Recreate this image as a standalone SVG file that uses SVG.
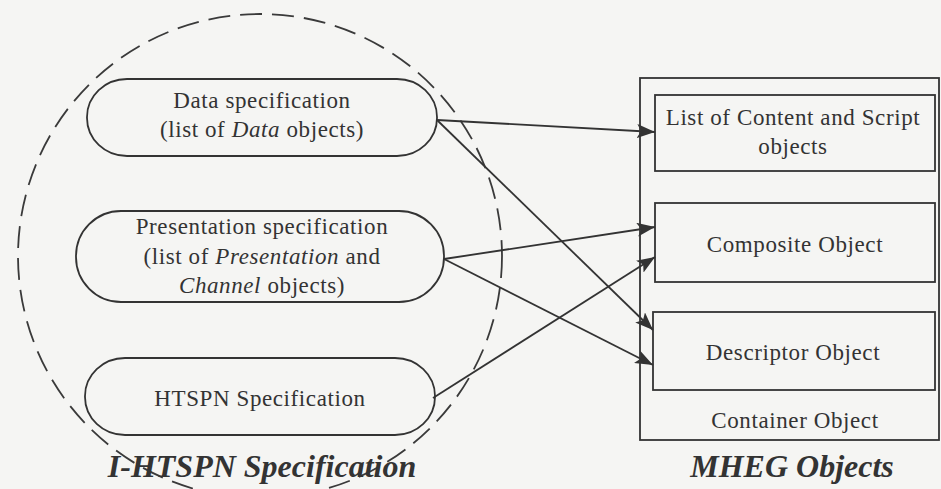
<svg xmlns="http://www.w3.org/2000/svg" width="941" height="489" viewBox="0 0 941 489">
<defs>
<style>
.bg{fill:#f5f5f3}
.shape{fill:none;stroke:#333;stroke-width:1.8}
.dash{fill:none;stroke:#3a3a3a;stroke-width:1.8;stroke-dasharray:22 10}
.t{font-family:"Liberation Serif","Times New Roman",serif;font-size:23px;fill:#333;text-anchor:middle;letter-spacing:0.6px}
.i{font-style:italic}
.title{font-family:"Liberation Serif","Times New Roman",serif;font-size:32px;font-weight:bold;font-style:italic;fill:#333;text-anchor:middle}
.conn{fill:none;stroke:#333;stroke-width:1.8;marker-end:url(#arr)}
</style>
<marker id="arr" markerUnits="userSpaceOnUse" markerWidth="20" markerHeight="14" refX="18" refY="7" orient="auto">
<path d="M0,0 L18,7 L0,14 L4,7 z" fill="#333"/>
</marker>
</defs>
<rect class="bg" x="0" y="0" width="941" height="489"/>

<g id="ihtspn-boundary">
<circle class="dash" cx="260" cy="256" r="242"/>
<text class="title" x="262" y="477">I-HTSPN Specification</text>
</g>

<g id="data-spec">
<rect class="shape" x="87" y="79" width="350" height="77" rx="40" ry="38"/>
<text class="t" x="262" y="108">Data specification</text>
<text class="t" x="262" y="137">(list of <tspan class="i">Data</tspan> objects)</text>
</g>

<g id="presentation-spec">
<rect class="shape" x="76" y="211" width="368" height="91" rx="45" ry="45"/>
<text class="t" x="262" y="234">Presentation specification</text>
<text class="t" x="262" y="264">(list of <tspan class="i">Presentation</tspan> and</text>
<text class="t" x="262" y="293"><tspan class="i">Channel</tspan> objects)</text>
</g>

<g id="htspn-spec">
<rect class="shape" x="85" y="358" width="350" height="77" rx="40" ry="38"/>
<text class="t" x="260" y="406">HTSPN Specification</text>
</g>

<g id="container-object">
<rect class="shape" x="640" y="78" width="299" height="362"/>
<text class="t" x="795" y="428">Container Object</text>
<text class="title" x="792" y="477">MHEG Objects</text>
</g>

<g id="content-script-list">
<rect class="shape" x="655" y="95" width="280" height="76"/>
<text class="t" x="793" y="125">List of Content and Script</text>
<text class="t" x="793" y="154">objects</text>
</g>

<g id="composite-object">
<rect class="shape" x="655" y="203" width="280" height="79"/>
<text class="t" x="795" y="252">Composite Object</text>
</g>

<g id="descriptor-object">
<rect class="shape" x="653" y="312" width="282" height="78"/>
<text class="t" x="793" y="360">Descriptor Object</text>
</g>

<g id="connectors">
<line class="conn" x1="437" y1="120" x2="655" y2="132"/>
<line class="conn" x1="437" y1="120" x2="653" y2="330"/>
<line class="conn" x1="444" y1="259" x2="655" y2="227"/>
<line class="conn" x1="444" y1="259" x2="653" y2="365"/>
<line class="conn" x1="433" y1="398" x2="655" y2="257"/>
</g>
</svg>
